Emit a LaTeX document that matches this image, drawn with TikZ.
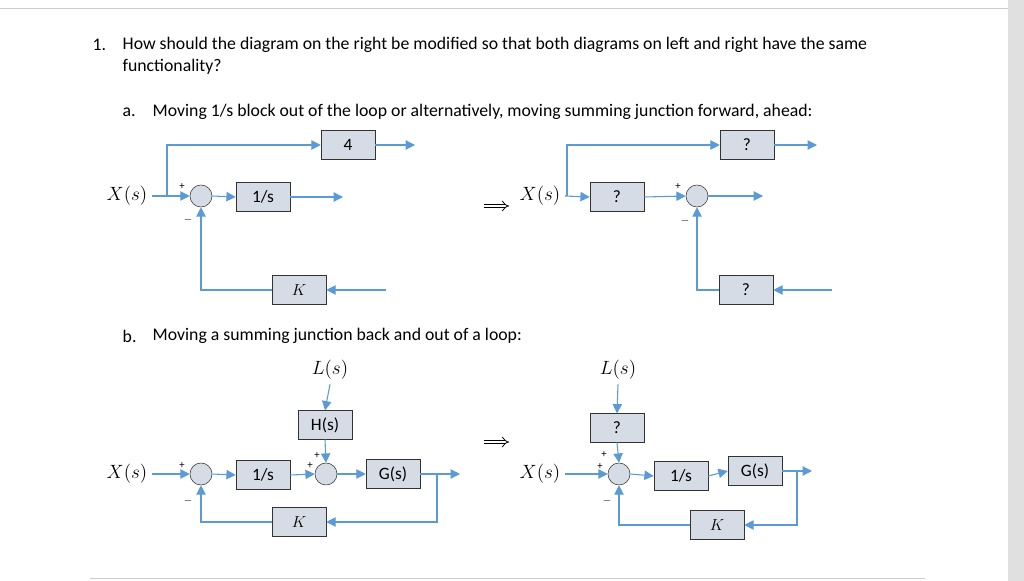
\documentclass[tikz,border=0pt]{standalone}
\usepackage{fontspec}
\setmainfont{Carlito}
\usepackage{amsmath}
\usetikzlibrary{arrows.meta}
\definecolor{wire}{HTML}{5B9BD5}
\definecolor{boxfill}{HTML}{D6DCE5}
\tikzset{
  blk/.style={draw=black!80, fill=boxfill, minimum width=40.5pt, minimum height=21.5pt, inner sep=0pt, font=\fontsize{13}{15}\selectfont},
  sumj/.style={circle, draw=black!80, fill=boxfill, minimum size=16.5pt, inner sep=0pt},
  sig/.style={wire, thick, -{Triangle[length=7pt,width=7pt]}},
  lab/.style={font=\fontsize{13.3}{16}\selectfont},
  sgn/.style={font=\footnotesize, inner sep=0pt},
  impl/.style={double, double distance=2.2pt, semithick, -{Implies}},
}
\begin{document}
\begin{tikzpicture}[x=0.75pt, y=-0.75pt]
    \useasboundingbox (0,0) rectangle (1024,581);
    \fill[white] (0,0) rectangle (1024,581);
    \fill[black!12] (1008,0) rectangle (1024,581);
    \draw[black!20] (0,8) -- (1008,8);
    \draw[black!20] (90,578) -- (925,578);

    % question text
    \node[lab, anchor=west] (num) at (88,45) {1.};
    \node[lab, anchor=west] (q1) at (118,45) {How should the diagram on the right be modified so that both diagrams on left and right have the same};
    \node[lab, anchor=west] (q2) at (118,67) {functionality?};
    \node[lab, anchor=west] (pa) at (118,112) {a.};
    \node[lab, anchor=west] (ta) at (148,112) {Moving 1/s block out of the loop or alternatively, moving summing junction forward, ahead:};
    \node[lab, anchor=west] (pb) at (118,336) {b.};
    \node[lab, anchor=west] (tb) at (148,336) {Moving a summing junction back and out of a loop:};

    % part a, left
    \node[lab] (xa) at (127,196) {$X(s)$};
    \node[sumj] (sa) at (201,196) {};
    \node[blk] (ia) at (263,197) {1/s};
    \node[blk] (fa) at (348,145) {4};
    \node[blk] (ka) at (299,290) {$K$};
    \coordinate (oa) at (343,197);
    \coordinate (ua) at (415,145);
    \coordinate (ra) at (386,290);
    \coordinate (ba) at (167,196);
    \draw[sig] (xa.east) -- (sa.west);
    \draw[sig] (ba) |- (fa.west);
    \draw[sig] (fa.east) -- (ua);
    \draw[sig] (sa.east) -- (ia.west);
    \draw[sig] (ia.east) -- (oa);
    \draw[sig] (ra) -- (ka.east);
    \draw[sig] (ka.west) -| (sa.south);
    \node[sgn] at (182,187) {+};
    \node[sgn] at (188,220) {$-$};

    \coordinate (ima1) at (484,206);
    \coordinate (ima2) at (509,206);
    \draw[impl] (ima1) -- (ima2);

    % part a, right
    \node[lab] (xb) at (540,196) {$X(s)$};
    \node[blk] (pb1) at (617,197) {?};
    \node[blk] (pb2) at (747,145) {?};
    \node[sumj] (sb) at (697,196) {};
    \node[blk] (kb) at (746,290) {?};
    \coordinate (bb) at (567,196);
    \coordinate (ub) at (817,145);
    \coordinate (ob) at (763,196);
    \coordinate (rb) at (832,290);
    \draw[sig] (xb.east) -- (pb1.west);
    \draw[sig] (bb) |- (pb2.west);
    \draw[sig] (pb2.east) -- (ub);
    \draw[sig] (pb1.east) -- (sb.west);
    \draw[sig] (sb.east) -- (ob);
    \draw[sig] (rb) -- (kb.east);
    \draw[sig] (kb.west) -| (sb.south);
    \node[sgn] at (678,187) {+};
    \node[sgn] at (685,221) {$-$};

    % part b, left
    \node[lab] (lc) at (330,370) {$L(s)$};
    \node[blk] (hc) at (325,425) {H(s)};
    \node[lab] (xc) at (127,474) {$X(s)$};
    \node[sumj] (sc1) at (201,474) {};
    \node[blk] (ic) at (263,475) {1/s};
    \node[sumj] (sc2) at (326,474) {};
    \node[blk] (gc) at (393,474) {G(s)};
    \node[blk] (kc) at (299,522) {$K$};
    \coordinate (oc) at (460,474);
    \coordinate (tc) at (437,474);
    \draw[sig] (lc.south) -- (hc.north);
    \draw[sig] (hc.south) -- (sc2.north);
    \draw[sig] (xc.east) -- (sc1.west);
    \draw[sig] (sc1.east) -- (ic.west);
    \draw[sig] (ic.east) -- (sc2.west);
    \draw[sig] (sc2.east) -- (gc.west);
    \draw[sig] (gc.east) -- (oc);
    \draw[sig] (tc) |- (kc.east);
    \draw[sig] (kc.west) -| (sc1.south);
    \node[sgn] at (182,466) {+};
    \node[sgn] at (188,501) {$-$};
    \node[sgn] at (317,456) {+};
    \node[sgn] at (310,466) {+};

    \coordinate (imb1) at (484,442);
    \coordinate (imb2) at (509,442);
    \draw[impl] (imb1) -- (imb2);

    % part b, right
    \node[lab] (ld) at (618,370) {$L(s)$};
    \node[blk] (qd) at (617,428) {?};
    \node[lab] (xd) at (540,474) {$X(s)$};
    \node[sumj] (sd) at (619,474) {};
    \node[blk] (id) at (681,476) {1/s};
    \node[blk] (gd) at (755,471) {G(s)};
    \node[blk] (kd) at (717,525) {$K$};
    \coordinate (od) at (812,471);
    \coordinate (td) at (797,471);
    \draw[sig] (ld.south) -- (qd.north);
    \draw[sig] (qd.south) -- (sd.north);
    \draw[sig] (xd.east) -- (sd.west);
    \draw[sig] (sd.east) -- (id.west);
    \draw[sig] (id.east) -- (gd.west);
    \draw[sig] (gd.east) -- (od);
    \draw[sig] (td) |- (kd.east);
    \draw[sig] (kd.west) -| (sd.south);
    \node[sgn] at (604,455) {+};
    \node[sgn] at (600,467) {+};
    \node[sgn] at (607,501) {$-$};
\end{tikzpicture}
\end{document}
